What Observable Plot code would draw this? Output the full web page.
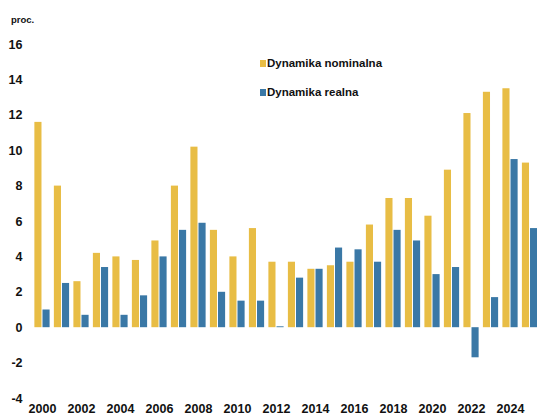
<!DOCTYPE html>
<html>
<head>
<meta charset="utf-8">
<script src="https://cdn.jsdelivr.net/npm/d3@7"></script>
<script src="https://cdn.jsdelivr.net/npm/@observablehq/plot@0.6"></script>
<style>
  html, body { margin: 0; padding: 0; background: #fff; }
  #wrap { position: relative; width: 537px; height: 419px; font-family: "Liberation Sans", Arial, sans-serif; }
  #unit { position: absolute; left: 11px; top: 14px; font-size: 9.5px; font-weight: bold; color: #111; }
  .leg { position: absolute; font-size: 11.5px; font-weight: bold; color: #111; white-space: nowrap; }
  .leg span.sw { display: inline-block; width: 6px; height: 7px; margin-right: 1px; vertical-align: 0px; }
</style>
</head>
<body>
<div id="wrap">
  <div id="unit">proc.</div>
  <div class="leg" id="leg1" style="left:260px; top:57px;"><span class="sw" style="background:#E8BD45"></span>Dynamika nominalna</div>
  <div class="leg" id="leg2" style="left:260px; top:86px;"><span class="sw" style="background:#3A78A6"></span>Dynamika realna</div>
</div>
<script>
const years = d3.range(2000, 2026);
const nominal = [11.6, 8.0, 2.6, 4.2, 4.0, 3.8, 4.9, 8.0, 10.2, 5.5, 4.0, 5.6, 3.7, 3.7, 3.3, 3.5, 3.7, 5.8, 7.3, 7.3, 6.3, 8.9, 12.1, 13.3, 13.5, 9.3];
const real =    [1.0, 2.5, 0.7, 3.4, 0.7, 1.8, 4.0, 5.5, 5.9, 2.0, 1.5, 1.5, 0.05, 2.8, 3.3, 4.5, 4.4, 3.7, 5.5, 4.9, 3.0, 3.4, -1.7, 1.7, 9.5, 5.6];
const yTicks = [-4, -2, 0, 2, 4, 6, 8, 10, 12, 14, 16];
const xTicks = d3.range(2000, 2025, 2);

const colNom = "#E8BD45";
const colReal = "#3A78A6";

const nomData = years.map((y, i) => ({year: y, value: nominal[i]}));
const realData = years.map((y, i) => ({year: y, value: real[i]}));

const step = 19.5;
const padding = 0.25;
const bw = step * (1 - padding);
const inset = bw / 2 + 0.5;

const chart = Plot.plot({
  width: 537,
  height: 419,
  marginTop: 44,
  marginBottom: 21,
  marginLeft: 30,
  marginRight: 0,
  style: {fontFamily: "Liberation Sans, Arial, sans-serif", fontSize: "12.5px", fontWeight: "bold", color: "#111", overflow: "visible"},
  x: {type: "band", domain: years, range: [29.8, 541.7], paddingInner: padding, paddingOuter: padding, round: false, label: null},
  y: {domain: [-4, 16], label: null},
  marks: [
    Plot.barY(nomData, {x: "year", y: "value", fill: colNom, insetRight: inset, insetLeft: -0.3}),
    Plot.barY(realData, {x: "year", y: "value", fill: colReal, insetLeft: inset, insetRight: -0.3}),
    Plot.axisY({ticks: yTicks, tickSize: 0, tickPadding: 8, label: null, tickFormat: d => String(d), fontSize: 12.5, fontWeight: "bold"}),
    Plot.axisX({ticks: xTicks, tickSize: 0, tickPadding: 6, label: null, tickFormat: d => String(d), fontSize: 12.5, fontWeight: "bold"})
  ]
});
document.getElementById("wrap").prepend(chart);
chart.style.position = "absolute";
chart.style.left = "0";
chart.style.top = "0";
</script>
</body>
</html>
